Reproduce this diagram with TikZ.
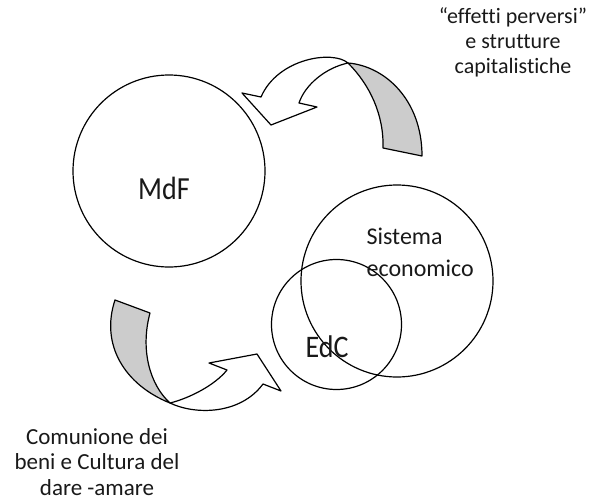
\documentclass[tikz,border=0pt]{standalone}
\usepackage{fontspec}
\setmainfont[RawFeature={-liga;-dlig;-clig}]{Carlito}
\begin{document}
\begin{tikzpicture}[x=1pt,y=-1pt,line width=1.2pt,line join=round]
\tikzset{
  ring/.style={draw,circle,inner sep=0pt},
  face/.style={draw,fill=white},
  back/.style={draw,fill=black!20},
  lbl/.style={inner sep=0pt,align=center,text=black!90}
}
\useasboundingbox (0,0) rectangle (602,503);
% circles
\node[ring,minimum size=192pt] (mdf) at (169,171) {};
\node[ring,minimum size=192pt] (sis) at (397,281) {};
\node[ring,minimum size=130pt] (edc) at (336.5,324.5) {};
% labels
\node[lbl,font=\fontsize{28}{30}\selectfont] (tmdf) at (164,188) {\scalebox{1}[1.15]{MdF}};
\node[lbl,font=\fontsize{28}{30}\selectfont] (tedc) at (327,347) {\scalebox{1}[1.12]{EdC}};
\node[lbl,align=left,anchor=west,font=\fontsize{24}{32}\selectfont] (tsis) at (366,252) {Sistema\\economico};
\node[lbl,font=\fontsize{22}{25}\selectfont] (ttop) at (513,42) {“effetti perversi”\\e strutture\\capitalistiche};
\node[lbl,font=\fontsize{23}{25.5}\selectfont] (tbot) at (97,462) {Comunione dei\\beni e Cultura del\\dare -amare};
% upper curved arrow
\coordinate (T1) at (348,63);
\path[back] (T1) .. controls (385,66) and (422,100) .. (422,156)
  -- (383,148) .. controls (384,115) and (370,85) .. (T1) -- cycle;
\path[face] (T1) .. controls (333,50) and (278,58) .. (261,97)
  -- (242,93) -- (271,125) -- (317,107) -- (299,103)
  .. controls (305,85) and (325,68) .. (T1) -- cycle;
% lower curved arrow
\coordinate (T2) at (170,403);
\path[back] (115,300) .. controls (100,345) and (125,385) .. (T2)
  .. controls (150,385) and (140,350) .. (150,313) -- cycle;
\path[face] (T2) .. controls (195,415) and (240,415) .. (263,384)
  -- (281,391) -- (257,354) -- (209,363) -- (227,370)
  .. controls (215,385) and (190,398) .. (T2) -- cycle;
\end{tikzpicture}
\end{document}
